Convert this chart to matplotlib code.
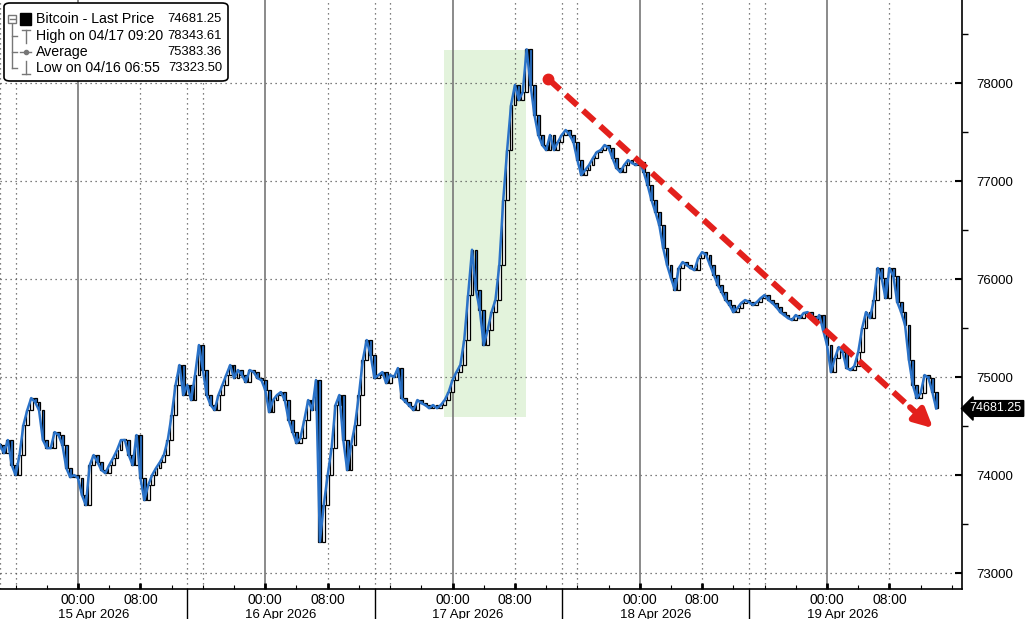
import matplotlib
matplotlib.use('Agg')
import matplotlib.pyplot as plt
import matplotlib.transforms as mtransforms
from matplotlib.patches import FancyBboxPatch, Rectangle
from matplotlib.lines import Line2D
import numpy as np

plt.rcParams['font.family'] = ['Liberation Sans', 'DejaVu Sans']

# Bitcoin closes every 30 minutes, starting 14 Apr 2026 14:00
# (hours counted from 15 Apr 2026 00:00)
start_hour = -10.0
step_hours = 0.5
close_prices = [
    74308, 74226, 74359, 74104, 74002, 74206, 74512, 74665,
    74787, 74746, 74665, 74359, 74277, 74277, 74440, 74410,
    74308, 74073, 73981, 74002, 73971, 73798, 73696, 74104,
    74206, 74134, 74053, 74022, 74104, 74175, 74257, 74359,
    74359, 74206, 74104, 74410, 73971, 73747, 73900, 74002,
    74073, 74134, 74206, 74359, 74614, 74920, 75124, 74818,
    74920, 74767, 75022, 75328, 75073, 74818, 74716, 74665,
    74818, 74920, 75022, 75124, 74991, 75073, 75022, 74950,
    75073, 75052, 74991, 74971, 74869, 74644, 74767, 74818,
    74848, 74767, 74563, 74440, 74328, 74379, 74563, 74767,
    74665, 74971, 73323.50, 73700, 74000, 74277, 74716, 74818,
    74359, 74053, 74308, 74512, 74818, 75175, 75379, 75226,
    74991, 75022, 75052, 74940, 75022, 75001, 75093, 74787,
    74746, 74705, 74665, 74767, 74736, 74716, 74685, 74716,
    74685, 74716, 74767, 74848, 74971, 75052, 75124, 75379,
    75838, 76300, 75889, 75685, 75328, 75481, 75664, 75787,
    76144, 76807, 77317, 77776, 77980, 77827, 77908, 78343.61,
    77980, 77674, 77470, 77368, 77317, 77470, 77317, 77398,
    77470, 77521, 77470, 77398, 77215, 77062, 77113, 77164,
    77235, 77296, 77317, 77368, 77337, 77235, 77133, 77092,
    77164, 77215, 77184, 77164, 77194, 77092, 76960, 76807,
    76684, 76552, 76317, 76144, 76011, 75889, 76113, 76174,
    76144, 76113, 76093, 76215, 76276, 76246, 76144, 76042,
    75940, 75868, 75787, 75736, 75664, 75705, 75756, 75787,
    75766, 75736, 75766, 75807, 75838, 75787, 75756, 75715,
    75664, 75634, 75603, 75583, 75634, 75603, 75654, 75664,
    75623, 75562, 75634, 75481, 75328, 75052, 75195, 75307,
    75256, 75093, 75073, 75114, 75256, 75501, 75664, 75603,
    75787, 76113, 76011, 75807, 76113, 76032, 75766, 75664,
    75532, 75175, 74920, 74787, 74838, 75022, 74991, 74848,
    74681.25,
]

# axis labels
day_midnights = [0, 24, 48, 72, 96]
day_labels = ['15 Apr 2026', '16 Apr 2026', '17 Apr 2026', '18 Apr 2026', '19 Apr 2026']
day_label_centers = [2, 26, 50, 74, 98]
day_separators = [-10, 14, 38, 62, 86]
hour_ticks = [0, 8, 24, 32, 48, 56, 72, 80, 96, 104]
hour_tick_labels = ['00:00', '08:00'] * 5
dotted_hours = [-10, -8, 8, 14, 16, 32, 38, 40, 56, 62, 64, 80, 86, 88, 104]
price_ticks = [73000, 74000, 75000, 76000, 77000, 78000]

# legend
legend_labels = ['Bitcoin - Last Price', 'High on 04/17 09:20', 'Average', 'Low on 04/16 06:55']
legend_values = ['74681.25', '78343.61', '75383.36', '73323.50']
last_price = 74681.25

# annotations
shade_hours = (46.9, 57.4)
shade_prices = (74590, 78340)
trend_start = (60.3, 78040)
trend_end = (109.6, 74480)

blue = '#2a72c8'
red = '#e3201c'

hours = start_hour + step_hours * np.arange(len(close_prices))
closes = np.array(close_prices)
opens = np.concatenate([[closes[0]], closes[:-1]])

W, H = 1025, 619
fig = plt.figure(figsize=(W / 100, H / 100), dpi=100)
ax = fig.add_axes([0, 30 / H, 962 / W, 589 / H])
ax.set_xlim(-10, 113.3)
ax.set_ylim(72840, 78847)

# green highlight
ax.add_patch(Rectangle((shade_hours[0], shade_prices[0]), shade_hours[1] - shade_hours[0],
                       shade_prices[1] - shade_prices[0], facecolor='#e3f3dc', edgecolor='none', zorder=0))

# grid
for p in price_ticks:
    ax.axhline(p, color='#555555', lw=0.9, ls=(0, (1, 3)), zorder=1)
for h in day_midnights:
    ax.axvline(h, color='#777777', lw=1.2, zorder=1)
for h in dotted_hours:
    ax.axvline(h, color='#555555', lw=0.9, ls=(0, (1, 3)), zorder=1)

# candles
up = closes >= opens
body_bottom = np.minimum(opens, closes)
body_height = np.maximum(np.abs(closes - opens), 8)
ax.bar(hours[up], body_height[up], bottom=body_bottom[up], width=0.36,
       color='white', edgecolor='black', linewidth=0.9, zorder=3)
ax.bar(hours[~up], body_height[~up], bottom=body_bottom[~up], width=0.36,
       color=blue, edgecolor='black', linewidth=0.9, zorder=3)
ax.plot(hours, closes, color=blue, lw=1.8, zorder=4)

# red trend arrow
tx = [trend_start[0], trend_end[0] - (trend_end[0] - trend_start[0]) * 0.06]
ty = [trend_start[1], trend_end[1] - (trend_end[1] - trend_start[1]) * 0.06]
ax.plot(tx, ty, color=red, lw=4.3, dashes=(2.6, 1.3), zorder=6, solid_capstyle='butt')
ax.plot(trend_start[0], trend_start[1], 'o', color=red, ms=7.5, zorder=6)
ax.annotate('', xy=trend_end, xytext=(tx[1], ty[1]),
            arrowprops=dict(arrowstyle='-|>,head_length=1.1,head_width=0.55', color=red, lw=4.3,
                            shrinkA=0, shrinkB=0), zorder=6)

# spines and ticks
for s in ['top', 'left']:
    ax.spines[s].set_visible(False)
ax.spines['right'].set_linewidth(1.2)
ax.spines['bottom'].set_linewidth(1.2)
ax.yaxis.tick_right()
ax.set_yticks(price_ticks)
ax.set_yticklabels([str(p) for p in price_ticks])
ax.set_yticks([73500, 74500, 75500, 76500, 77500, 78500], minor=True)
ax.tick_params(axis='y', which='major', direction='in', length=5, width=1.5, pad=10, labelsize=9.5)
ax.tick_params(axis='y', which='minor', direction='out', length=4, width=1)
ax.set_xticks(hour_ticks)
ax.set_xticklabels(hour_tick_labels)
ax.set_xticks(np.arange(-8, 113, 4), minor=True)
ax.tick_params(axis='x', which='major', direction='in', length=4, width=2, pad=3, labelsize=10)
ax.tick_params(axis='x', which='minor', direction='in', length=3, width=0.8)

# date labels and separators under the axis
trans = mtransforms.blended_transform_factory(ax.transData, ax.transAxes)
for c, lab in zip(day_label_centers, day_labels):
    ax.text(c, -0.034, lab, transform=trans, ha='center', va='top', fontsize=9.5)
for s in day_separators[1:]:
    ax.add_line(Line2D([s, s], [0, -0.06], transform=trans, color='black', lw=1, clip_on=False))

# last price tag
ytrans = mtransforms.blended_transform_factory(ax.transAxes, ax.transData)
ax.text(1.008, last_price, '74681.25', transform=ytrans, ha='left', va='center', color='white',
        fontsize=9, bbox=dict(boxstyle='larrow,pad=0.15', fc='black', ec='black'), clip_on=False)

# legend box drawn in pixel positions
def fx(px):
    return px / W

def fy(py):
    return 1 - py / H

fig.patches.append(FancyBboxPatch((fx(4), fy(81)), fx(224), 78 / H,
                                  boxstyle='round,pad=0,rounding_size=0.006',
                                  transform=fig.transFigure, facecolor='white', edgecolor='black',
                                  linewidth=1.2, zorder=10))
rows_y = [19, 36, 52, 68]
for y, lab, val in zip(rows_y, legend_labels, legend_values):
    fig.text(fx(36), fy(y), lab, ha='left', va='center', fontsize=10.2, zorder=11)
    fig.text(fx(222), fy(y), val, ha='right', va='center', fontsize=9.4, zorder=11)

gray = '#777777'
lines = [
    ([12, 12], [23, 68]),
    ([12, 17], [36, 36]), ([12, 17], [52, 52]), ([12, 17], [68, 68]),
    ([26, 26], [30, 43]), ([22, 30], [30, 30]),
    ([20, 31], [52, 52]),
    ([26, 26], [61, 74]), ([22, 30], [74, 74]),
]
for xs, ys in lines:
    fig.lines.append(Line2D([fx(v) for v in xs], [fy(v) for v in ys], transform=fig.transFigure,
                            color=gray, lw=1, zorder=11))
fig.lines.append(Line2D([fx(25.5)], [fy(52)], transform=fig.transFigure, marker='o', ms=3,
                        color=gray, zorder=11))
fig.patches.append(Rectangle((fx(8), fy(23)), fx(8), 8 / H, transform=fig.transFigure,
                             facecolor='white', edgecolor=gray, lw=1, zorder=11))
fig.lines.append(Line2D([fx(9.5), fx(14.5)], [fy(19), fy(19)], transform=fig.transFigure,
                        color=gray, lw=1, zorder=12))
fig.patches.append(Rectangle((fx(20), fy(25)), fx(11), 12 / H, transform=fig.transFigure,
                             facecolor='black', edgecolor='black', zorder=11))

fig.savefig('out.png', dpi=100)
